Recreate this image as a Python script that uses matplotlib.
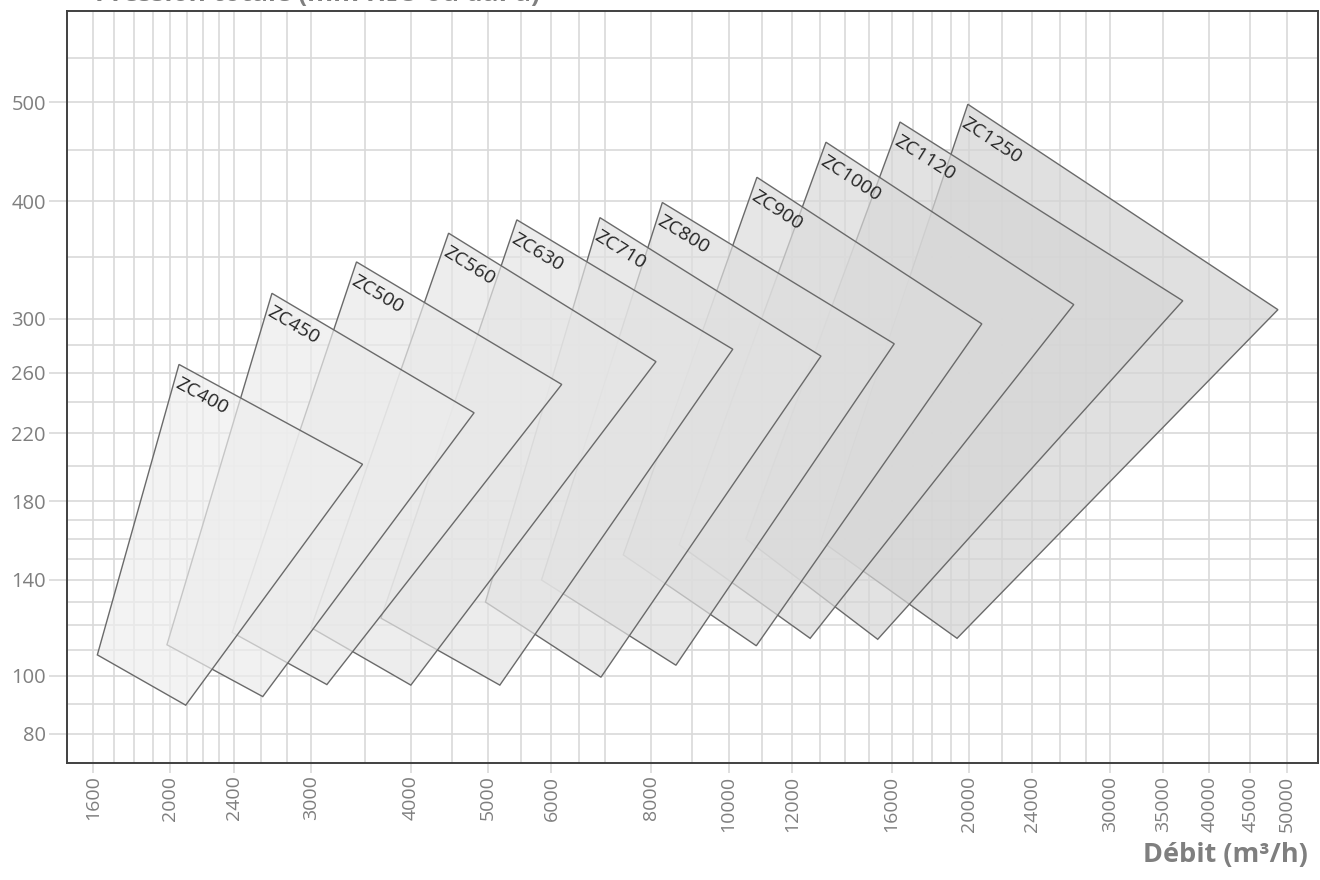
import numpy as np
import matplotlib
matplotlib.use("Agg")
import matplotlib.pyplot as plt
from matplotlib.patches import Polygon
from matplotlib.ticker import FixedLocator, FuncFormatter, NullFormatter

plt.rcParams['font.family'] = ['Open Sans', 'DejaVu Sans']

# ==========================================
# DATA: fan zones (flow m3/h, pressure)
# ==========================================
models = ["ZC400", "ZC450", "ZC500", "ZC560", "ZC630", "ZC710",
          "ZC800", "ZC900", "ZC1000", "ZC1120", "ZC1250"]

left_q = [1620, 1980, 2390, 3000, 3670, 4960, 5830, 7380, 8670, 10510, 13050]
left_p = [108, 112, 117, 119, 123, 130, 140, 152, 157, 160, 159]

top_q = [2050, 2680, 3420, 4460, 5430, 6900, 8260, 10850, 13240, 16390, 19930]
top_p = [266, 320, 346, 371, 383, 385, 399, 423, 458, 479, 498]

right_q = [3480, 4800, 6180, 8110, 10120, 13050, 16120, 20750, 27050, 37040, 48730]
right_p = [201, 233, 252, 268, 277, 272, 281, 296, 311, 314, 307]

bottom_q = [2090, 2610, 3140, 4000, 5170, 6920, 8590, 10830, 12650, 15370, 19320]
bottom_p = [89.5, 92.5, 96.8, 96.6, 96.6, 99.5, 104, 111.6, 114.6, 114.2, 114.6]

x_ticks = [1600, 2000, 2400, 3000, 4000, 5000, 6000, 8000, 10000, 12000,
           16000, 20000, 24000, 30000, 35000, 40000, 45000, 50000]
x_minor = [1700, 1800, 1900, 2100, 2200, 2300, 2600, 2800, 3500, 4500, 5500,
           6500, 7000, 9000, 11000, 13000, 14000, 15000, 17000, 18000, 19000,
           22000, 26000, 28000]
y_ticks = [80, 100, 140, 180, 220, 260, 300, 400, 500]
y_minor = [90, 110, 120, 130, 150, 160, 170, 200, 240, 280, 350, 450, 550]

# ==========================================
# FIGURE
# ==========================================
W, H = 1320, 880
fig = plt.figure(figsize=(W / 100, H / 100), dpi=100)
ax = fig.add_axes([66.7 / W, 1 - 763 / H, (1318 - 66.7) / W, (763 - 11) / H])

ax.set_xscale('log')
ax.set_yscale('function', functions=(np.cbrt, lambda v: np.power(v, 3)))
ax.set_xlim(1483, 54700)
ax.set_ylim(71, 606)

ax.xaxis.set_major_locator(FixedLocator(x_ticks))
ax.xaxis.set_minor_locator(FixedLocator(x_minor))
ax.xaxis.set_major_formatter(FuncFormatter(lambda v, p: f"{int(round(v))}"))
ax.xaxis.set_minor_formatter(NullFormatter())
ax.yaxis.set_major_locator(FixedLocator(y_ticks))
ax.yaxis.set_minor_locator(FixedLocator(y_minor))
ax.yaxis.set_major_formatter(FuncFormatter(lambda v, p: f"{int(round(v))}"))
ax.yaxis.set_minor_formatter(NullFormatter())

ax.grid(which='both', color='#d9d9d9', linewidth=1.2)
ax.set_axisbelow(True)
ax.tick_params(which='major', width=1.2, color='#d9d9d9',
               labelcolor='#7f7f7f', pad=2)
ax.tick_params(axis='y', length=13, labelsize=14.5)
ax.tick_params(axis='x', length=7, labelsize=14, labelrotation=90)
ax.tick_params(which='minor', length=0)

for s in ax.spines.values():
    s.set_color('#404040')
    s.set_linewidth(1.4)

# ==========================================
# ZONES (largest first, smallest on top)
# ==========================================
n = len(models)
alpha = 0.7
grays = np.linspace(0.935, 0.83, n)
fig.canvas.draw()
for i in range(n - 1, -1, -1):
    pts = [(left_q[i], left_p[i]), (top_q[i], top_p[i]),
           (right_q[i], right_p[i]), (bottom_q[i], bottom_p[i])]
    g = grays[i]
    poly = Polygon(pts, closed=True, facecolor=(g, g, g, alpha),
                   edgecolor='#6a6a6a', linewidth=1.0, zorder=3 + (n - i))
    ax.add_patch(poly)

    # label aligned with top-right edge
    p0 = ax.transData.transform((top_q[i], top_p[i]))
    p1 = ax.transData.transform((right_q[i], right_p[i]))
    u = (p1 - p0) / np.hypot(*(p1 - p0))
    nrm = np.array([u[1], -u[0]])
    ang = np.degrees(np.arctan2(u[1], u[0]))
    off = (6 * u + 8 * nrm) * 0.72
    ax.annotate(models[i], xy=(top_q[i], top_p[i]), xytext=(off[0], off[1]),
                textcoords='offset points', rotation=ang, rotation_mode='anchor',
                ha='left', va='top', fontsize=14, color='#262626', zorder=30)

fig.text(95 / W, 1 - 1 / H, "Pression totale (mm H₂O ou daPa)", ha='left',
         va='baseline', fontsize=19, fontweight='bold', color='#7f7f7f')
fig.text(1308 / W, 1 - 855 / H, "Débit (m³/h)", ha='right', va='center',
         fontsize=19.5, fontweight='bold', color='#7f7f7f')

fig.savefig("out.png", dpi=100)
